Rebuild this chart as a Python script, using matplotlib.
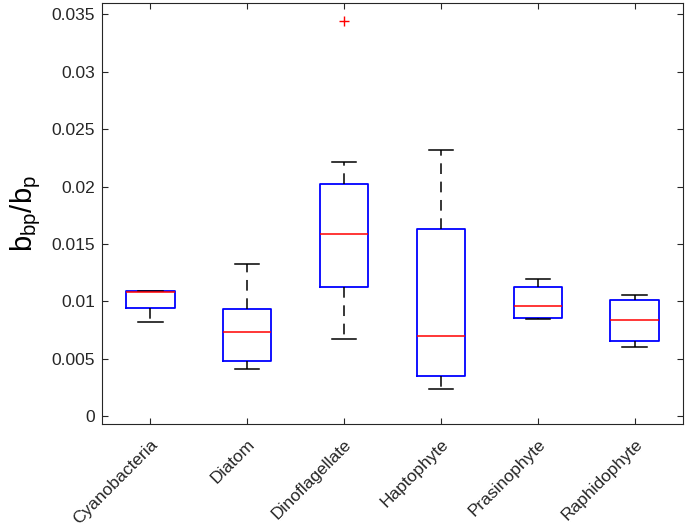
import matplotlib
matplotlib.use("Agg")
import matplotlib.pyplot as plt
from matplotlib.transforms import ScaledTranslation

categories = ["Cyanobacteria", "Diatom", "Dinoflagellate", "Haptophyte", "Prasinophyte", "Raphidophyte"]
whislo = [0.00822, 0.00409, 0.00674, 0.00232, 0.00845, 0.00604]
q1     = [0.00944, 0.00479, 0.01121, 0.00348, 0.00857, 0.00656]
med    = [0.01080, 0.00729, 0.01585, 0.00700, 0.00955, 0.00839]
q3     = [0.01092, 0.00932, 0.02018, 0.01626, 0.01127, 0.01010]
whishi = [0.01092, 0.01327, 0.02210, 0.02323, 0.01196, 0.01051]
fliers = [[], [], [0.03441], [], [], []]

plt.rcParams['font.family'] = ['Liberation Sans', 'DejaVu Sans']
fig = plt.figure(figsize=(6.85, 5.27), dpi=100)
ax = fig.add_axes([0.149, 0.1954, 0.848, 0.7989])

stats = []
for i, c in enumerate(categories):
    stats.append(dict(label=c, whislo=whislo[i], q1=q1[i], med=med[i], q3=q3[i],
                      whishi=whishi[i], fliers=fliers[i]))

positions = list(range(1, len(categories) + 1))
ax.bxp(stats, positions=positions, widths=0.5, showfliers=True,
       boxprops=dict(color='#0000ff', linewidth=1.3),
       medianprops=dict(color='#ff0000', linewidth=1.1),
       whiskerprops=dict(color='black', linewidth=1.1, linestyle=(0, (7, 5))),
       capprops=dict(color='black', linewidth=1.1),
       flierprops=dict(marker='+', markeredgecolor='#ff0000', markersize=7, linestyle='none'))

ax.set_xlim(0.5, 6.5)
ax.set_ylim(-0.0007, 0.036)
ax.set_yticks([0, 0.005, 0.01, 0.015, 0.02, 0.025, 0.03, 0.035])
ax.set_yticklabels(['0', '0.005', '0.01', '0.015', '0.02', '0.025', '0.03', '0.035'])
ax.set_xticks(positions)
ax.set_xticklabels(categories, rotation=45, ha='right', rotation_mode='anchor')

ax.tick_params(direction='in', top=True, right=True, length=4, width=0.8,
               labelsize=12.5, colors='#262626', pad=5)
offset = ScaledTranslation(0, -4 / 72, fig.dpi_scale_trans)
for lbl in ax.get_xticklabels():
    lbl.set_transform(lbl.get_transform() + offset)
for s in ax.spines.values():
    s.set_color('#262626')
    s.set_linewidth(0.8)

ax.set_ylabel(r'$\mathregular{b_{bp}/b_p}$', fontsize=21, color='black', labelpad=6)

fig.savefig("out.png", dpi=100)
